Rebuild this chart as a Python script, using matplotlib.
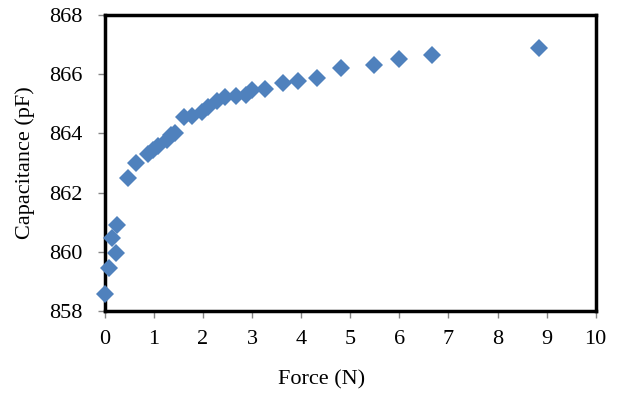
import matplotlib
matplotlib.use("Agg")
import matplotlib.pyplot as plt

# force (N) vs capacitance (pF)
force = [0.00, 0.09, 0.23, 0.14, 0.26, 0.48, 0.64, 0.89, 0.98, 1.09,
         1.26, 1.36, 1.43, 1.61, 1.77, 1.99, 2.11, 2.29, 2.45, 2.67,
         2.87, 3.01, 3.26, 3.63, 3.94, 4.33, 4.82, 5.48, 5.99, 6.66, 8.85]
capacitance = [858.57, 859.46, 859.96, 860.48, 860.90, 862.50, 862.99, 863.30,
               863.44, 863.58, 863.78, 863.95, 864.02, 864.56, 864.59, 864.73,
               864.90, 865.10, 865.22, 865.27, 865.30, 865.47, 865.51, 865.69,
               865.76, 865.86, 866.21, 866.31, 866.50, 866.65, 866.90]

xticks = list(range(0, 11))
yticks = [858, 860, 862, 864, 866, 868]

plt.rcParams['font.family'] = ['Liberation Serif', 'DejaVu Serif']

fig = plt.figure(figsize=(6.21, 3.94), dpi=100)
ax = fig.add_axes([0.1686, 0.2107, 0.7907, 0.7512])

ax.plot(force, capacitance, linestyle='none', marker='D', markersize=9.5,
        color='#4F81BD', markeredgewidth=0, clip_on=False, zorder=3)

ax.set_xlim(0, 10)
ax.set_ylim(858, 868)
ax.set_xticks(xticks)
ax.set_yticks(yticks)
ax.tick_params(axis='both', direction='out', length=5, width=1, color='#868686',
               labelsize=16)
ax.tick_params(axis='x', pad=9)
ax.tick_params(axis='y', pad=11)

for side in ['top', 'right', 'left', 'bottom']:
    ax.spines[side].set_color('black')
    ax.spines[side].set_linewidth(2.5)

ax.set_xlabel('Force (N)', fontsize=16)
ax.set_ylabel('Capacitance (pF)', fontsize=16)
ax.xaxis.set_label_coords(0.442, -0.233)
ax.yaxis.set_label_coords(-0.162, 0.5)
ax.xaxis.label.set_va('center')
ax.yaxis.label.set_va('center')

fig.savefig('out.png', dpi=100)
